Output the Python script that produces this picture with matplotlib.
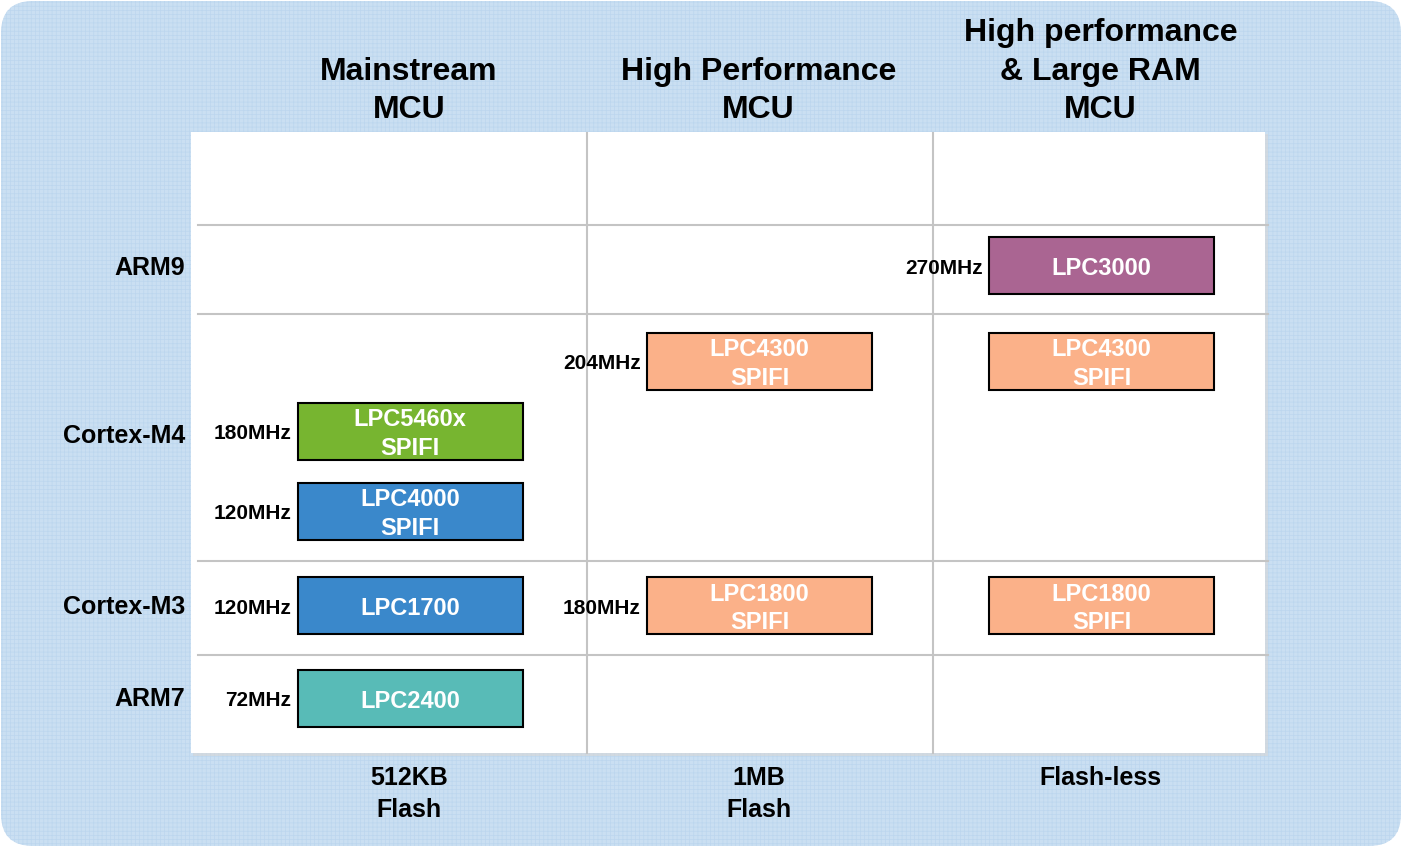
import matplotlib.pyplot as plt
from matplotlib.patches import FancyBboxPatch, Rectangle

plt.rcParams['font.family'] = ['Liberation Sans', 'DejaVu Sans']
plt.rcParams['font.weight'] = 'bold'
plt.rcParams['hatch.linewidth'] = 0.5

# data
col_headers = ['Mainstream\nMCU', 'High Performance\nMCU', 'High performance\n& Large RAM\nMCU']
col_footers = ['512KB\nFlash', '1MB\nFlash', 'Flash-less']
row_labels = ['ARM9', 'Cortex-M4', 'Cortex-M3', 'ARM7']

chips = ['LPC5460x\nSPIFI', 'LPC4000\nSPIFI', 'LPC1700', 'LPC2400',
         'LPC4300\nSPIFI', 'LPC1800\nSPIFI',
         'LPC3000', 'LPC4300\nSPIFI', 'LPC1800\nSPIFI']
chip_col = [0, 0, 0, 0, 1, 1, 2, 2, 2]
chip_slot = [2, 3, 4, 5, 1, 4, 0, 1, 4]
clocks = ['180MHz', '120MHz', '120MHz', '72MHz', '204MHz', '180MHz', '270MHz', '', '']
family = ['5460', 'blue', 'blue', 'arm7', 'hp', 'hp', 'arm9', 'hp', 'hp']

colours = {'5460': '#77b530', 'blue': '#3a88cb', 'arm7': '#58bbb7',
           'hp': '#fbb189', 'arm9': '#aa6592'}

# layout (pixels)
col_x = [410, 759.5, 1101.5]
slot_y = [266, 361.5, 431.5, 511.5, 606, 698.5]
row_label_y = [268, 436, 607, 699]
box_w, box_h = 225, 57

fig = plt.figure(figsize=(14.02, 8.47), dpi=100)
ax = fig.add_axes([0, 0, 1, 1])
ax.set_xlim(0, 1402)
ax.set_ylim(847, 0)
ax.axis('off')

# background panel
bg = FancyBboxPatch((1, 1), 1400, 845, boxstyle='round,pad=0,rounding_size=32',
                    facecolor='#cadff2', edgecolor='none')
ax.add_patch(bg)
bg2 = FancyBboxPatch((1, 1), 1400, 845, boxstyle='round,pad=0,rounding_size=32',
                     facecolor='none', edgecolor='#bcd6ee', hatch='++++', linewidth=0)
ax.add_patch(bg2)

# white chart area with faint shadow
ax.add_patch(Rectangle((193, 134), 1075, 622, facecolor='#d6d6d6', edgecolor='none', alpha=0.6))
ax.add_patch(Rectangle((191, 132), 1074, 621, facecolor='white', edgecolor='none'))

for y in [225, 314, 561, 655]:
    ax.plot([198, 1268], [y, y], color='#c4c4c4', lw=1.5)
for x in [587, 933]:
    ax.plot([x, x], [133, 753], color='#c4c4c4', lw=1.5)

# headers: bottom line centred near y=107
for i, t in enumerate(col_headers):
    ax.text(col_x[i] - 1, 118, t, ha='center', va='baseline', fontsize=23, linespacing=1.36)

# footers: first line at y=776
for i, t in enumerate(col_footers):
    ax.text(col_x[i] - 1, 766, t, ha='center', va='top', fontsize=18, linespacing=1.42)

for lab, y in zip(row_labels, row_label_y):
    ax.text(185, y, lab, ha='right', va='center', fontsize=18)

# chip boxes
for name, c, s, clk, fam in zip(chips, chip_col, chip_slot, clocks, family):
    cx, cy = col_x[c], slot_y[s]
    ax.add_patch(Rectangle((cx - box_w / 2, cy - box_h / 2), box_w, box_h,
                           facecolor=colours[fam], edgecolor='black', lw=1.5))
    ax.text(cx, cy + 2.5, name, ha='center', va='center', color='white',
            fontsize=17, linespacing=1.32)
    if clk:
        ax.text(cx - box_w / 2 - 6, cy + 2, clk, ha='right', va='center', fontsize=15)

fig.savefig('out.png', dpi=100)
